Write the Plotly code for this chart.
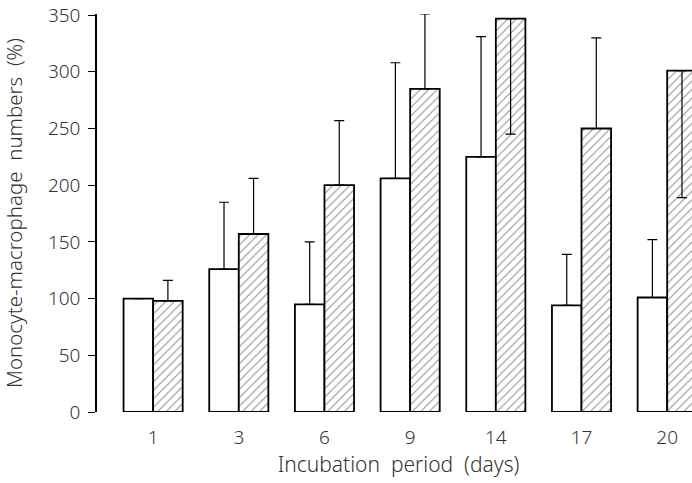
import plotly.graph_objects as go

days = ["1", "3", "6", "9", "14", "17", "20"]
control = [100, 126, 95, 206, 225, 94, 101]
control_err_up = [0, 59, 55, 102, 106, 45, 51]
treated = [98, 157, 200, 285, 347, 250, 301]
treated_err_up = [18, 49, 57, 66, 0, 80, 0]
treated_err_down = [0, 0, 0, 0, 102, 0, 112]

x = list(range(len(days)))

fig = go.Figure()
fig.add_trace(go.Bar(
    x=x, y=control,
    marker=dict(color="white", line=dict(color="black", width=1.8)),
    error_y=dict(type="data", symmetric=False, array=control_err_up,
                 arrayminus=[0] * len(days), color="black", thickness=1.2, width=5),
    showlegend=False,
))
fig.add_trace(go.Bar(
    x=x, y=treated,
    marker=dict(color="white", line=dict(color="black", width=1.8),
                pattern=dict(shape="/", fgcolor="#222", bgcolor="white", size=6, solidity=0.18)),
    error_y=dict(type="data", symmetric=False, array=treated_err_up,
                 arrayminus=treated_err_down, color="black", thickness=1.2, width=5),
    showlegend=False,
))

font_family = "'Noto Sans', 'DejaVu Sans', sans-serif"
fig.update_layout(
    width=700, height=483,
    margin=dict(l=97, r=0, t=14, b=71),
    paper_bgcolor="white", plot_bgcolor="white",
    barmode="group", bargap=0.31, bargroupgap=0,
    font=dict(family=font_family, size=19, color="#333", weight=300),
    xaxis=dict(
        automargin=False,
        range=[-0.655, 6.383], tickmode="array", tickvals=x, ticktext=days,
        showline=False, showgrid=False, zeroline=False, ticks="",
        tickfont=dict(size=19), ticklabelstandoff=12,
        title=dict(text="Incubation  period  (days)", font=dict(size=21), standoff=8),
    ),
    yaxis=dict(
        automargin=False,
        range=[0, 351], tickvals=[0, 50, 100, 150, 200, 250, 300, 350],
        showline=True, linecolor="black", linewidth=1.5,
        ticks="outside", ticklen=7, tickcolor="black", tickwidth=1.2,
        showgrid=False, zeroline=False,
        tickfont=dict(size=19), ticklabelstandoff=4,
        title=dict(text="Monocyte-macrophage  numbers  (%)", font=dict(size=20.5), standoff=20),
    ),
)

fig.write_html("out.html", config={"displayModeBar": False},
               post_script="document.body.style.margin='0';document.body.style.overflow='hidden';")
